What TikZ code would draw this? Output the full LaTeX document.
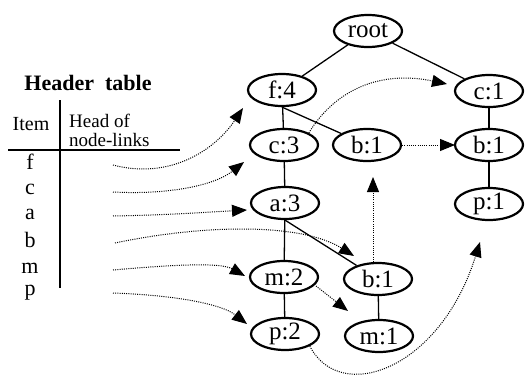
\documentclass[tikz,border=0pt]{standalone}
\usepackage{fontspec}
\setmainfont{Liberation Serif}
\usetikzlibrary{shapes.geometric,arrows.meta}
\begin{document}
\begin{tikzpicture}[x=1pt,y=-1pt,
  tnode/.style={ellipse,draw,line width=2.2pt,minimum width=68pt,minimum height=32pt,inner sep=0pt,font=\fontsize{25}{27}\selectfont},
  edge/.style={line width=1.3pt},
  link/.style={line width=1pt,dash pattern=on 1pt off 1.2pt,-{Triangle[length=15pt,width=12pt]}},
  item/.style={font=\fontsize{22}{24}\selectfont,anchor=center}]
\useasboundingbox (0,0) rectangle (525,383);
% header table
\node[font=\bfseries\fontsize{22}{24}\selectfont] (ht) at (88,83) {Header\ \ table};
\node[font=\fontsize{20}{22}\selectfont] (it) at (31,124) {Item};
\node[font=\fontsize{19}{20}\selectfont,anchor=west,inner sep=0pt] (hd1) at (69,121) {Head of};
\node[font=\fontsize{19}{20}\selectfont,anchor=west,inner sep=0pt] (hd2) at (69,140) {node-links};
\coordinate (vt) at (60,100);
\coordinate (vb) at (60,288);
\coordinate (hl) at (8,150);
\coordinate (hr) at (180,150);
\draw[line width=1.5pt] (vt) -- (vb);
\draw[line width=1.5pt] (hl) -- (hr);
\node[item] (if) at (30,162) {f};
\node[item] (ic) at (30,189) {c};
\node[item] (ia) at (30,214) {a};
\node[item] (ib) at (30,240) {b};
\node[item] (im) at (30,268) {m};
\node[item] (ip) at (30,293) {p};
\coordinate (sf) at (113,165);
\coordinate (sc) at (113,192);
\coordinate (sa) at (113,216);
\coordinate (sb) at (115,243);
\coordinate (sm) at (113,270);
\coordinate (sp) at (113,293);
% tree nodes
\node[tnode] (root) at (368,31) {root};
\node[tnode] (f4) at (282,90) {f:4};
\node[tnode] (c1) at (489,91) {c:1};
\node[tnode] (c3) at (284,145) {c:3};
\node[tnode] (b1m) at (367,145) {b:1};
\node[tnode] (b1r) at (489,145) {b:1};
\node[tnode] (a3) at (285,203) {a:3};
\node[tnode] (p1) at (489,204) {p:1};
\node[tnode] (m2) at (284,277) {m:2};
\node[tnode] (b1l) at (378,279) {b:1};
\node[tnode] (p2) at (285,334) {p:2};
\node[tnode] (m1) at (379,336) {m:1};
% solid edges
\draw[edge] (root) -- (f4);
\draw[edge] (root) -- (c1);
\draw[edge] (f4) -- (c3);
\draw[edge] (f4.south) -- (b1m);
\draw[edge] (c3) -- (a3);
\draw[edge] (a3) -- (m2);
\draw[edge] (a3.south) -- (b1l);
\draw[edge] (m2) -- (p2);
\draw[edge] (b1l) -- (m1);
\draw[edge] (c1) -- (b1r);
\draw[edge] (b1r) -- (p1);
% header links
\coordinate (tf) at (243,108);
\coordinate (tc) at (244,162);
\coordinate (ta) at (247,210);
\coordinate (tb) at (354,256);
\coordinate (tm) at (245,276);
\coordinate (tp) at (247,324);
\draw[link] (sf) .. controls (170,180) and (215,150) .. (tf);
\draw[link] (sc) .. controls (170,195) and (215,185) .. (tc);
\draw[link] (sa) .. controls (170,215) and (210,212) .. (ta);
\draw[link] (sb) .. controls (200,225) and (300,222) .. (tb);
\draw[link] (sm) .. controls (170,265) and (220,262) .. (tm);
\draw[link] (sp) .. controls (170,295) and (220,303) .. (tp);
% node links
\coordinate (tc1) at (447,84);
\coordinate (tb1r) at (455,145);
\coordinate (tb1m) at (373,177);
\coordinate (tm1) at (348,311);
\coordinate (tp1) at (480,242);
\coordinate (sm2) at (316,286);
\draw[link] (c3.north east) .. controls (335,90) and (380,70) .. (tc1);
\draw[link] (b1m) -- (tb1r);
\draw[link] (b1l.north -| tb1m) -- (tb1m);
\draw[link] (sm2) -- (tm1);
\draw[link] (p2.south east) .. controls (340,405) and (440,370) .. (tp1);
\end{tikzpicture}
\end{document}
